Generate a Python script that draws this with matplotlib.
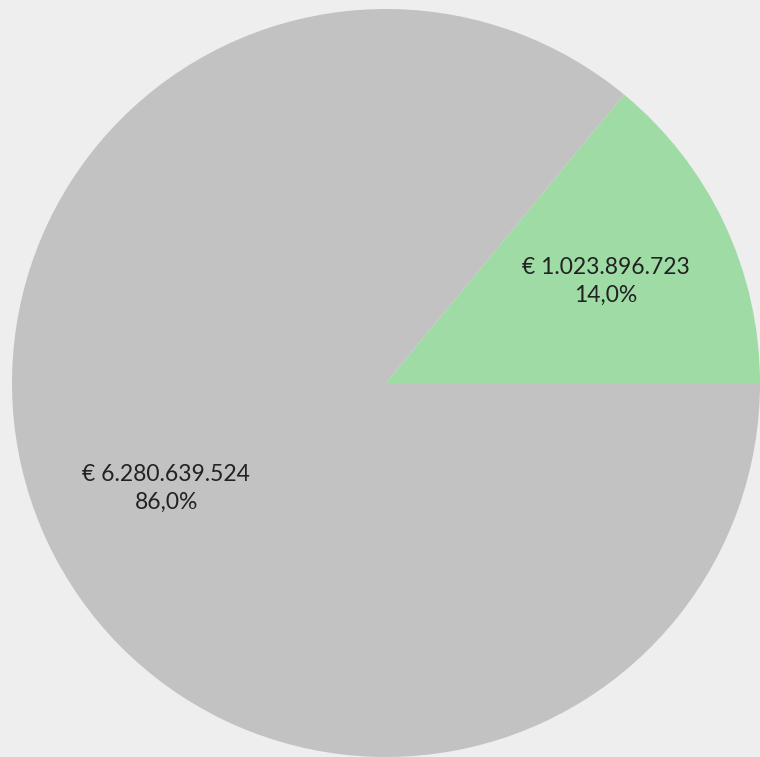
import matplotlib
matplotlib.use("Agg")
import matplotlib.pyplot as plt

# slice values (EUR), starting at 3 o'clock, counterclockwise
categories = ["groen", "grijs"]
values = [1023896723, 6280639524]
colors = ["#9fdca5", "#c2c2c2"]

BG = "#eeeeee"
W, H = 760, 757


def fmt_label(pct):
    total = sum(values)
    val = round(pct * total / 100.0)
    # pick closest real value to avoid rounding drift
    val = min(values, key=lambda v: abs(v - val))
    amount = f"{val:,}".replace(",", ".")
    pct_txt = f"{pct:.1f}".replace(".", ",")
    return f"€ {amount}\n{pct_txt}%"


fig = plt.figure(figsize=(W / 100, H / 100), dpi=100)
fig.patch.set_facecolor(BG)
ax = fig.add_axes([0, 0, 1, 1])
ax.set_facecolor(BG)

wedges, texts, autotexts = ax.pie(
    values,
    colors=colors,
    startangle=0,
    counterclock=True,
    center=(386, H - 383),
    radius=374,
    autopct=fmt_label,
    pctdistance=0.65,
    frame=True,
    wedgeprops={"linewidth": 0},
    textprops={"family": ["Lato", "DejaVu Sans"], "fontsize": 16.5, "color": "#222222"},
)
for t in autotexts:
    t.set_linespacing(1.38)
    x, y = t.get_position()
    t.set_position((x, y - 2))

ax.set_xlim(0, W)
ax.set_ylim(0, H)
ax.set_aspect("equal")
ax.axis("off")

fig.savefig("out.png", dpi=100, facecolor=BG)
